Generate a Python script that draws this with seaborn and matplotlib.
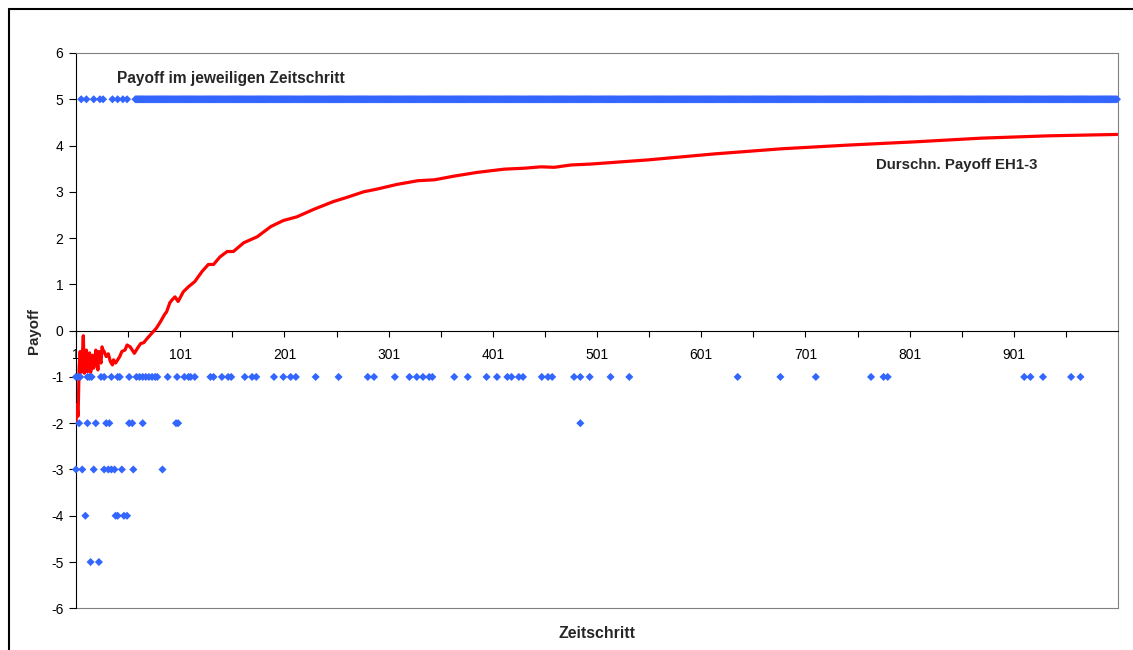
import numpy as np
import pandas as pd
import matplotlib
matplotlib.use("Agg")
import matplotlib.pyplot as plt
from matplotlib.lines import Line2D
import seaborn as sns

# 1. DATA
# averaged payoff EH1-3, sampled along the red curve
avg_steps = [1, 2, 3, 4, 5, 6, 7, 8, 9, 10, 11, 12, 13, 14, 15, 16, 17, 18, 19, 20,
             21, 22, 23, 24, 25, 26, 27, 28, 30, 32, 34, 36, 37, 39, 41, 43, 45, 48, 50, 53,
             55, 57, 60, 63, 66, 70, 74, 78, 82, 86, 88, 91, 93, 96, 99, 104, 109, 115, 122, 128,
             133, 139, 146, 152, 162, 175, 188, 200, 213, 229, 248, 261, 277, 290, 309, 329, 345, 364, 386, 412,
             431, 447, 460, 476, 495, 550, 614, 678, 742, 806, 870, 934, 1000]
avg_values = [-2.0, -1.6, -1.85, -0.8, -0.45, -0.9, -0.6, -0.11, -0.92, -0.75, -0.42, -0.89, -0.7, -0.48, -0.9, -0.8, -0.53, -0.81, -0.7, -0.42,
              -0.6, -0.85, -0.45, -0.6, -0.7, -0.35, -0.42, -0.45, -0.56, -0.5, -0.67, -0.74, -0.63, -0.7, -0.63, -0.56, -0.45, -0.42, -0.31, -0.35,
              -0.42, -0.49, -0.38, -0.28, -0.26, -0.15, -0.05, 0.05, 0.19, 0.35, 0.41, 0.6, 0.66, 0.73, 0.63, 0.84, 0.95, 1.06, 1.28, 1.43,
              1.43, 1.59, 1.71, 1.71, 1.9, 2.03, 2.25, 2.38, 2.46, 2.62, 2.79, 2.88, 3.0, 3.06, 3.16, 3.24, 3.26, 3.34, 3.42, 3.49,
              3.51, 3.54, 3.53, 3.58, 3.6, 3.69, 3.82, 3.93, 4.01, 4.08, 4.16, 4.21, 4.24]

# payoff per time step: steps at which each payoff value shows up
five_early_steps = [6, 11, 18, 24, 27, 36, 41, 46, 50]
five_run_first, five_run_last = 58, 1000   # the 5-row is solid from here on
neg1_steps = [1, 3, 5, 12, 14, 16, 25, 28, 35, 41, 43, 52, 59, 62, 65, 68, 71, 74, 77, 79,
              89, 98, 105, 109, 111, 115, 130, 133, 141, 147, 150, 163, 170, 174, 191, 200, 207, 212, 231, 253,
              281, 287, 307, 321, 328, 334, 340, 343, 364, 377, 395, 405, 415, 419, 426, 430, 448, 454, 458, 479,
              485, 494, 514, 532, 636, 677, 711, 764, 776, 780, 911, 917, 929, 956, 965]
neg2_steps = [4, 12, 20, 30, 33, 52, 55, 65, 97, 99, 485]
neg3_steps = [1, 7, 18, 28, 32, 35, 38, 45, 56, 84]
neg4_steps = [10, 39, 41, 47, 50]
neg5_steps = [15, 23]

x_tick_labels = ['1', '101', '201', '301', '401', '501', '601', '701', '801', '901']
y_ticks = list(range(-6, 7))

five_steps = five_early_steps + list(range(five_run_first, five_run_last + 1))
rows = []
for val, steps in [(5, five_steps), (-1, neg1_steps), (-2, neg2_steps),
                   (-3, neg3_steps), (-4, neg4_steps), (-5, neg5_steps)]:
    rows += [(s, val) for s in steps]
pts = pd.DataFrame(rows, columns=['Zeitschritt', 'Payoff'])
avg = pd.DataFrame({'Zeitschritt': avg_steps, 'Payoff': avg_values})

# 2. PLOT
sns.set_theme(style='white')
plt.rcParams['font.family'] = ['Liberation Sans', 'DejaVu Sans']

W, H = 1133, 650
fig = plt.figure(figsize=(W / 100, H / 100), dpi=100)
ax = fig.add_axes([76 / W, 1 - 608.3 / H, (1118 - 76) / W, (608.3 - 53) / H])

sns.lineplot(data=avg, x='Zeitschritt', y='Payoff', color='#FF0000', lw=2.3,
             estimator=None, sort=False, ax=ax, zorder=3)
sns.scatterplot(data=pts, x='Zeitschritt', y='Payoff', marker='D', s=17,
                color='#3366FF', edgecolor='none', linewidth=0, ax=ax,
                zorder=4, clip_on=False)

ax.set_xlim(1, 1001)
ax.set_ylim(-6, 6)
ax.set_xlabel('')
ax.set_ylabel('')

ax.set_xticks(range(1, 1001, 100))
ax.set_xticklabels(x_tick_labels)
ax.set_xticks(range(51, 1002, 100), minor=True)
ax.set_yticks(y_ticks)
ax.set_yticklabels([str(v) for v in y_ticks])

ax.tick_params(axis='x', which='both', direction='out', length=4.5, width=0.8,
               color='black', bottom=True, pad=8, labelsize=10, labelcolor='black')
ax.tick_params(axis='y', direction='out', length=5, width=0.8, color='black',
               left=True, pad=4, labelsize=10, labelcolor='black')

ax.spines['bottom'].set_position(('data', 0))
for side in ['bottom', 'left']:
    ax.spines[side].set_color('black')
    ax.spines[side].set_linewidth(0.8)
for side in ['top', 'right']:
    ax.spines[side].set_color('#808080')
    ax.spines[side].set_linewidth(0.8)
ax.axhline(-6, color='#808080', lw=0.8, clip_on=False, zorder=2)

ax.text(40, 5.35, 'Payoff im jeweiligen Zeitschritt', fontsize=11.2,
        fontweight='bold', va='baseline', ha='left')
ax.text(769, 3.49, 'Durschn. Payoff EH1-3', fontsize=10.8,
        fontweight='bold', va='baseline', ha='left')

fig.text(34 / W, 1 - 331 / H, 'Payoff', rotation=90, ha='center', va='center',
         fontsize=10.8, fontweight='bold')
fig.text(597 / W, 1 - 634 / H, 'Zeitschritt', ha='center', va='center',
         fontsize=11.4, fontweight='bold')

# chart area border
fig.add_artist(Line2D([8.5 / W, 8.5 / W], [0, 1 - 8.5 / H], transform=fig.transFigure,
                      color='black', lw=1.5))
fig.add_artist(Line2D([8.5 / W, 1], [1 - 8.5 / H, 1 - 8.5 / H], transform=fig.transFigure,
                      color='black', lw=1.5))

fig.savefig('out.png', dpi=100)
